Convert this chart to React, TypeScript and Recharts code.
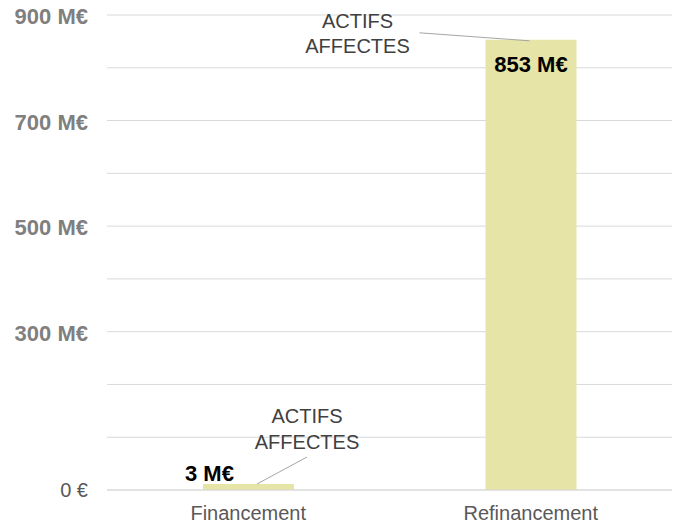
import React from "react";
import { BarChart, Bar, XAxis, YAxis, CartesianGrid, LabelList } from "recharts";

const categories = ["Financement", "Refinancement"];
const values = [3, 853];
const valueLabels = ["3 M€", "853 M€"];
const annotationLines = ["ACTIFS", "AFFECTES"];
const yTicks = [0, 100, 200, 300, 400, 500, 600, 700, 800, 900];
const yTickLabels: Record<number, string> = { 0: "0 €", 300: "300 M€", 500: "500 M€", 700: "700 M€", 900: "900 M€" };

const data = categories.map((c, i) => ({ name: c, value: values[i], label: valueLabels[i] }));

const FONT = "'Liberation Sans', Arial, sans-serif";

const YTick = (props: any) => {
  const { x, y, payload } = props;
  const label = yTickLabels[payload.value];
  if (!label) return null;
  const isZero = payload.value === 0;
  return (
    <text
      x={88}
      y={y + (isZero ? 7 : 9)}
      textAnchor="end"
      fontFamily={FONT}
      fontSize={isZero ? 20 : 22}
      fontWeight={isZero ? "normal" : "bold"}
      fill={isZero ? "#595959" : "#7f7f7f"}
    >
      {label}
    </text>
  );
};

const XTick = (props: any) => {
  const { x, y, payload } = props;
  return (
    <text x={x} y={y + 22} textAnchor="middle" fontFamily={FONT} fontSize={20} fill="#595959">
      {payload.value}
    </text>
  );
};

const Annot = (props: any) => {
  const { x, y, width, index } = props;
  const label = valueLabels[index];
  if (index === 0) {
    return (
      <g>
        <text x={x - 18} y={y - 3} textAnchor="start" fontFamily={FONT} fontSize={22} fontWeight="bold" fill="#000">
          {label}
        </text>
        <line x1={x + 54} y1={y} x2={x + 104} y2={y - 27} stroke="#a6a6a6" strokeWidth={1} />
        <text x={x + 104} y={y - 61} textAnchor="middle" fontFamily={FONT} fontSize={20} fill="#404040">
          {annotationLines[0]}
        </text>
        <text x={x + 104} y={y - 35} textAnchor="middle" fontFamily={FONT} fontSize={20} fill="#404040">
          {annotationLines[1]}
        </text>
      </g>
    );
  }
  return (
    <g>
      <text x={x + width / 2} y={y + 32} textAnchor="middle" fontFamily={FONT} fontSize={22} fontWeight="bold" fill="#000">
        {label}
      </text>
      <line x1={x + 44} y1={y + 1} x2={x - 66} y2={y - 7} stroke="#a6a6a6" strokeWidth={1} />
      <text x={x - 128} y={y - 12} textAnchor="middle" fontFamily={FONT} fontSize={20} fill="#404040">
        {annotationLines[0]}
      </text>
      <text x={x - 128} y={y + 13} textAnchor="middle" fontFamily={FONT} fontSize={20} fill="#404040">
        {annotationLines[1]}
      </text>
    </g>
  );
};

export default function App() {
  return (
    <div style={{ position: "absolute", left: 0, top: 0, width: 673, height: 528, background: "#fff" }}>
      <BarChart
        width={673}
        height={528}
        data={data}
        margin={{ top: 15, right: 1, left: 0, bottom: 8 }}
        barCategoryGap="0%"
      >
        <CartesianGrid vertical={false} stroke="#d9d9d9" strokeWidth={1} />
        <XAxis
          dataKey="name"
          axisLine={{ stroke: "#d9d9d9" }}
          tickLine={false}
          height={30}
          tick={<XTick />}
          interval={0}
        />
        <YAxis
          width={107}
          domain={[0, 900]}
          ticks={yTicks}
          axisLine={false}
          tickLine={false}
          tick={<YTick />}
          interval={0}
        />
        <Bar dataKey="value" fill="#e6e4a6" barSize={91} minPointSize={6} isAnimationActive={false}>
          <LabelList dataKey="label" content={<Annot />} />
        </Bar>
      </BarChart>
    </div>
  );
}
